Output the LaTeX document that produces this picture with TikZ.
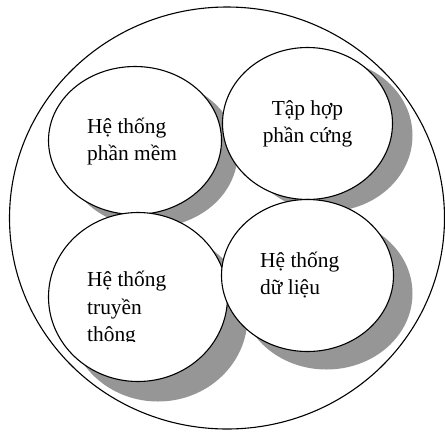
\documentclass[tikz,border=0pt]{standalone}
\usepackage{fontspec}
\setmainfont{Liberation Serif}
\usepackage{tikz}
\usetikzlibrary{shapes.geometric,shadows}
\definecolor{shade}{RGB}{150,150,150}

\begin{document}
\begin{tikzpicture}[x=1pt, y=-1pt,
  font=\fontsize{21.4}{27.3}\selectfont,
  ring/.style={ellipse, draw, line width=1.1pt, inner sep=0pt},
  bub/.style 2 args={ring, fill=white,
    drop shadow={shadow xshift=#1, shadow yshift=#2, fill=shade, opacity=1}},
  lbl/.style={align=left, inner sep=0pt}]
\useasboundingbox (0,0) rectangle (445,432);

% --- outer ring
\node[ring, minimum width=435pt, minimum height=422pt] (sys) at (227,218) {};

% --- four parts, each with its grey shadow
\node[bub={16pt}{-13pt}, minimum width=173pt, minimum height=148pt] (soft) at (135,140.5) {};
\node[bub={20pt}{-12pt}, minimum width=170pt, minimum height=152pt] (hard) at (307.5,123.5) {};
\node[bub={20pt}{-20pt}, minimum width=179pt, minimum height=169pt] (comm) at (138,297) {};
\node[bub={19pt}{-18pt}, minimum width=172pt, minimum height=152pt] (data) at (307.5,275.5) {};

% --- labels (base = last line)
\node[lbl, anchor=base west] (tsoft) at (87,160.5) {Hệ thống\\phần mềm};
\node[lbl, align=center, anchor=base] (thard) at (307.5,142.5) {Tập hợp\\phần cứng};
\begin{scope}
  \clip (40,200) rectangle (240,341);
  \node[lbl, anchor=base west] (tcomm) at (87,341.3) {Hệ thống\\truyền\\thông};
\end{scope}
\node[lbl, anchor=base west] (tdata) at (260,294.5) {Hệ thống\\dữ liệu};
\end{tikzpicture}
\end{document}
